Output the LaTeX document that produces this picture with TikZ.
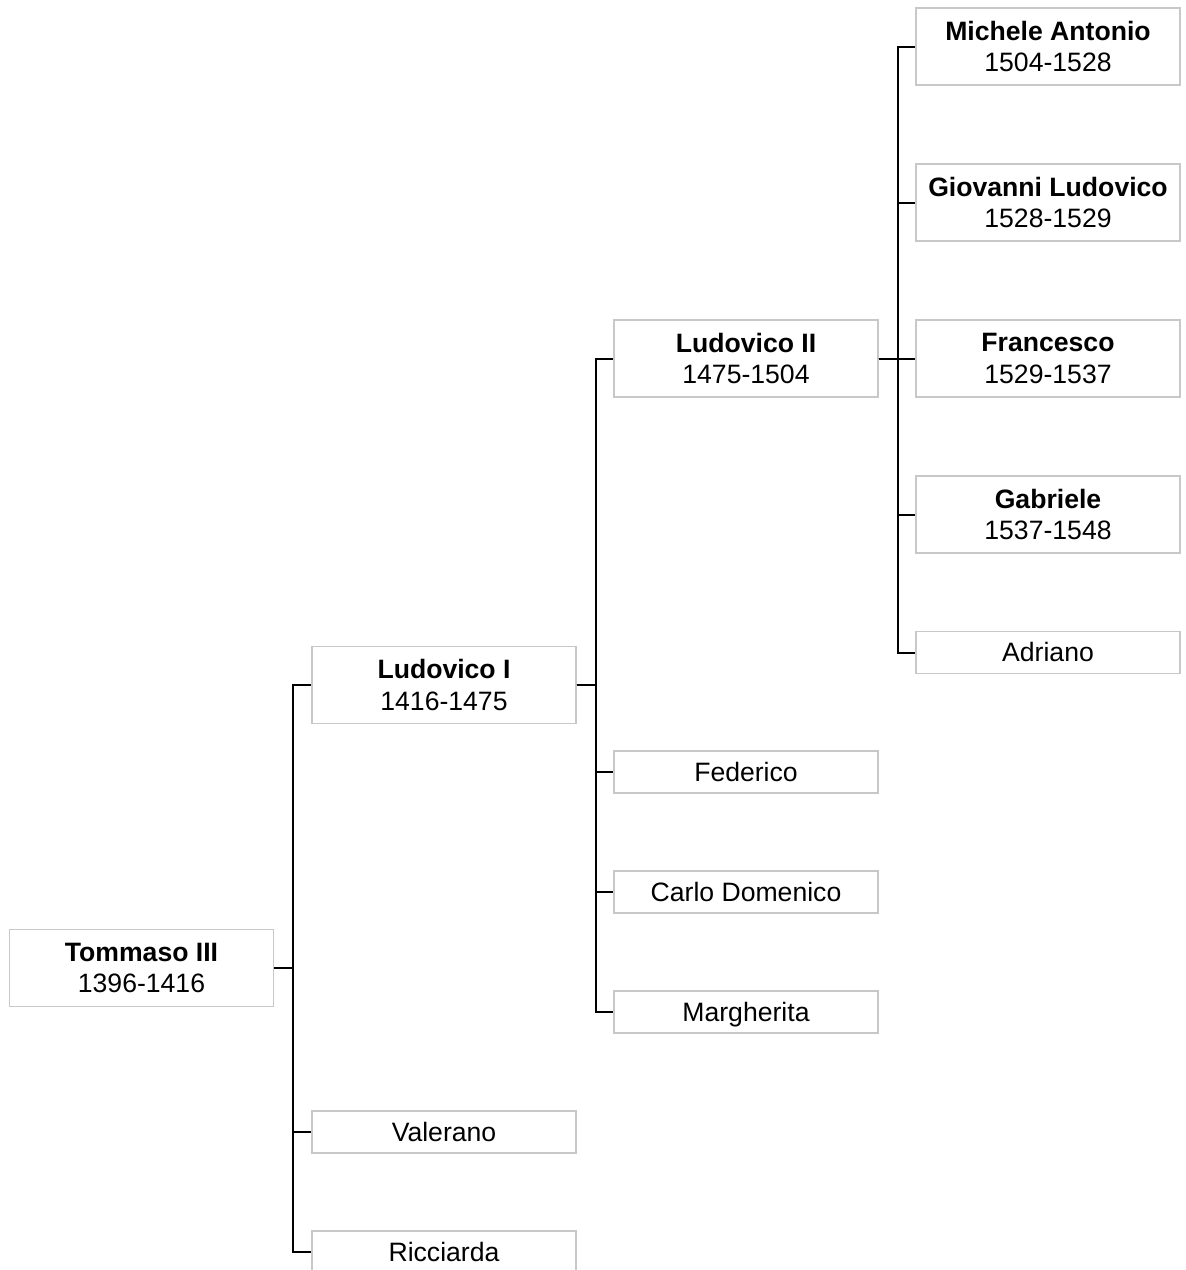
\documentclass[tikz,border=0pt]{standalone}
\usepackage{fontspec}
\setmainfont{Liberation Sans}
\usetikzlibrary{positioning}
\definecolor{boxgray}{RGB}{200,200,200}
\tikzset{
	person/.style={draw=boxgray, line width=0.7pt, fill=white, minimum width=132pt,
		align=center, inner sep=0pt, font=\fontsize{13.3}{15.8}\selectfont},
	ruler/.style={person, minimum height=38.5pt},
	child/.style={person, minimum height=21pt, text height=10pt, text depth=1pt},
	link/.style={line width=1pt}
}

\begin{document}
\begin{tikzpicture}[x=0.5pt,y=-0.5pt]
	\useasboundingbox (0,0) rectangle (1186,1270);

	% rulers
	\node[ruler] (tom) at (141.5,968) {\textbf{Tommaso III}\\1396-1416};
	\node[ruler] (lud1) at (444,685) {\textbf{Ludovico I}\\1416-1475};
	\node[ruler] (lud2) at (746,358.5) {\textbf{Ludovico II}\\1475-1504};
	\node[ruler] (mich) at (1048,46.5) {\textbf{Michele Antonio}\\1504-1528};
	\node[ruler] (giov) at (1048,202.5) {\textbf{Giovanni Ludovico}\\1528-1529};
	\node[ruler] (fran) at (1048,358.5) {\textbf{Francesco}\\1529-1537};
	\node[ruler] (gab) at (1048,514.5) {\textbf{Gabriele}\\1537-1548};

	% other children
	\node[child] (adr) at (1048,652.5) {Adriano};
	\node[child] (fed) at (746,772) {Federico};
	\node[child] (carlo) at (746,892) {Carlo Domenico};
	\node[child] (marg) at (746,1012) {Margherita};
	\node[child] (val) at (444,1132) {Valerano};
	\node[child] (ric) at (444,1252) {Ricciarda};

	\foreach \kid in {lud1,val,ric}
		\draw[link] (tom.east) -- ++(19,0) |- (\kid.west);
	\foreach \kid in {lud2,fed,carlo,marg}
		\draw[link] (lud1.east) -- ++(19,0) |- (\kid.west);
	\foreach \kid in {mich,giov,fran,gab,adr}
		\draw[link] (lud2.east) -- ++(19,0) |- (\kid.west);
\end{tikzpicture}
\end{document}
